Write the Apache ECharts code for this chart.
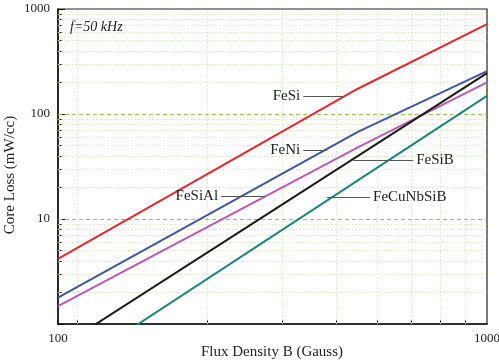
<!DOCTYPE html>
<html><head><meta charset="utf-8">
<script src="https://cdn.jsdelivr.net/npm/echarts@6/dist/echarts.min.js"></script>
<style>html,body{margin:0;padding:0;background:#fff}#c{width:499px;height:363px}</style>
</head><body><div id="c"></div>
<script>
// ---- data ----
const fluxKinked = [100, 500, 1000];
const feSi = [4.17, 174, 719];
const feNi = [1.78, 67.6, 256];
const feSiAl = [1.48, 48, 200];
const fluxStraight = [100, 1000];
const feSiB = [0.586, 245];
const feCuNbSiB = [0.316, 149];

const xLabelValues = [100, 1000];
const yLabelValues = [10, 100, 1000];
const yMajorTickValues = [1, 10, 100, 1000];
const yMajorGrid = [10, 100];
const yMinorGrid = [2, 3, 4, 5, 6, 7, 8, 9, 20, 30, 40, 50, 60, 70, 80, 90, 200, 300, 400, 500, 600, 700, 800, 900];
const xMinorGrid = [111.1, 222.2, 333.3, 444.4, 555.6, 666.7, 777.8, 888.9];

// annotation labels with leader lines (data space): name, x from, x to, y, label side
const annoNames = ['FeSi', 'FeNi', 'FeSiAl', 'FeSiB', 'FeCuNbSiB'];
const annoXFrom = [373, 373, 240, 488, 424];
const annoXTo = [462, 424, 304, 673, 534];
const annoY = [149, 45.2, 16.5, 36.3, 16.1];
const annoSide = ['start', 'start', 'start', 'end', 'end'];

const seriesNames = ['FeSi', 'FeNi', 'FeSiAl', 'FeSiB', 'FeCuNbSiB'];
const seriesColors = ['#e8262b', '#3d57a8', '#c156b9', '#1a1a1a', '#16877f'];

const FONT = 'Liberation Serif';
const zip = (xs, ys) => xs.map((x, i) => [x, ys[i]]);

const seriesData = [
  zip(fluxKinked, feSi),
  zip(fluxKinked, feNi),
  zip(fluxKinked, feSiAl),
  zip(fluxStraight, feSiB),
  zip(fluxStraight, feCuNbSiB)
];

const chart = echarts.init(document.getElementById('c'), null, {renderer: 'canvas'});

const gridSeries = {
  type: 'line', name: 'grid', z: 1, silent: true,
  data: [[fluxStraight[0], yLabelValues[0]]],
  showSymbol: false, symbol: 'none', lineStyle: {opacity: 0},
  markLine: {
    z: 1, silent: true, symbol: ['none', 'none'], animation: false,
    label: {show: false},
    data: [
      ...yMinorGrid.map(v => ({yAxis: v, lineStyle: {type: [1.5, 2], color: '#d6e9b8', width: 1}})),
      ...xMinorGrid.map(v => ({xAxis: v, lineStyle: {type: [1.5, 2], color: '#d6e9b8', width: 1}})),
      ...yMajorGrid.map(v => ({yAxis: v, lineStyle: {type: [4, 3], color: '#93c94a', width: 1}}))
    ]
  }
};

const annoSeries = {
  type: 'line', name: 'labels', z: 5, silent: true,
  data: [[fluxStraight[0], yLabelValues[0]]],
  showSymbol: false, symbol: 'none', lineStyle: {opacity: 0},
  markLine: {
    z: 5, silent: true, symbol: ['none', 'none'], animation: false,
    lineStyle: {color: '#555', width: 1, type: 'solid'},
    label: {show: true, formatter: '{b}', fontFamily: FONT, fontSize: 15, color: '#222', distance: 3},
    data: annoNames.map((n, i) => [
      {name: n, coord: [annoXFrom[i], annoY[i]], label: {position: annoSide[i]}},
      {coord: [annoXTo[i], annoY[i]]}
    ])
  }
};

const lineSeries = seriesNames.map((n, i) => ({
  type: 'line', name: n, z: 3, data: seriesData[i],
  showSymbol: false, symbol: 'none', clip: true, animation: false,
  lineStyle: {color: seriesColors[i], width: 2}
}));

const axisText = {fontFamily: FONT, fontSize: 13, color: '#222', formatter: v => String(v)};

chart.setOption({
  animation: false,
  backgroundColor: '#fff',
  title: {
    text: 'f=50 kHz', left: 65, top: 15,
    textStyle: {fontFamily: FONT, fontStyle: 'italic', fontWeight: 'normal', fontSize: 14, color: '#222'}
  },
  graphic: [{
    type: 'text', x: 10, y: 175, rotation: Math.PI / 2,
    style: {text: 'Core Loss (mW/cc)', fontFamily: FONT, fontSize: 15, fill: '#222', align: 'center', verticalAlign: 'middle'}
  }, {
    type: 'text', x: 272, y: 352,
    style: {text: 'Flux Density B (Gauss)', fontFamily: FONT, fontSize: 15, fill: '#222', align: 'center', verticalAlign: 'middle'}
  }],
  grid: {left: 58, right: 12, top: 9, bottom: 39, containLabel: false, outerBoundsMode: 'none',
    show: true, borderColor: '#222', borderWidth: 1.2, backgroundColor: 'transparent'},
  xAxis: [{
    type: 'log', logBase: 10, min: 100, max: 1000,
    axisLine: {show: true, lineStyle: {color: '#111', width: 1.5}},
    axisTick: {show: true, inside: true, length: 4, customValues: xMinorGrid, lineStyle: {color: '#111', width: 1}},
    axisLabel: {show: true, margin: 8, customValues: xLabelValues, ...axisText},
    splitLine: {show: false},
    minorTick: {show: false}, minorSplitLine: {show: false}
  }],
  yAxis: [{
    type: 'log', logBase: 10, min: 1, max: 1000,
    axisLine: {show: true, lineStyle: {color: '#111', width: 1.5}},
    axisTick: {show: true, inside: true, length: 7, customValues: yMajorTickValues, lineStyle: {color: '#111', width: 1}},
    axisLabel: {show: true, margin: 8, customValues: yLabelValues, ...axisText},
    splitLine: {show: false},
    minorTick: {show: false}, minorSplitLine: {show: false}
  }, {
    type: 'log', logBase: 10, min: 1, max: 1000, position: 'left', offset: 0,
    axisLine: {show: false},
    axisTick: {show: true, inside: true, length: 4, customValues: yMinorGrid, lineStyle: {color: '#111', width: 1}},
    axisLabel: {show: false},
    splitLine: {show: false}
  }],
  series: [gridSeries, ...lineSeries, annoSeries]
});
</script>
</body></html>
